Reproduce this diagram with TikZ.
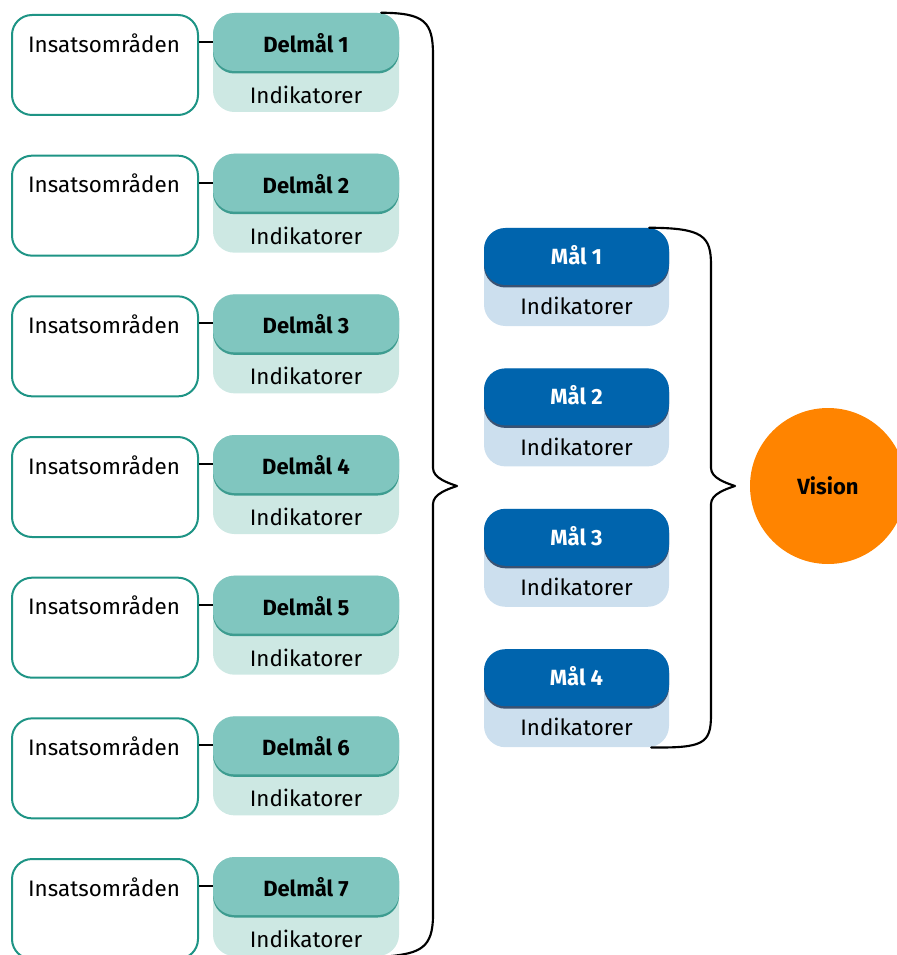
\documentclass[tikz,border=0pt]{standalone}
\usepackage{fontspec}
\setmainfont{Fira Sans}
\usetikzlibrary{calc}
\definecolor{tealdark}{HTML}{80C6BF}
\definecolor{tealedge}{HTML}{3D9C90}
\definecolor{teallight}{HTML}{CDE8E3}
\definecolor{tealline}{HTML}{1E9485}
\definecolor{bluedark}{HTML}{0064AD}
\definecolor{blueedge}{HTML}{3A5272}
\definecolor{bluelight}{HTML}{CCDFEE}
\definecolor{visorange}{HTML}{FF8400}
\begin{document}
\begin{tikzpicture}[x=0.75pt,y=-0.75pt,
  insbox/.style={draw=tealline, line width=1.5pt, fill=white, rounded corners=15pt, minimum width=139.5pt, minimum height=75pt, inner sep=0pt},
  txt/.style={font=\fontsize{16.8pt}{18pt}\selectfont, inner sep=0pt, anchor=center},
  btxt/.style={font=\fontsize{16.5pt}{18pt}\selectfont\bfseries, inner sep=0pt, anchor=center},
  dellight/.style={fill=teallight, rounded corners=16pt, minimum width=139.5pt, minimum height=74.25pt, inner sep=0pt},
  deledge/.style={fill=tealedge, rounded corners=16pt, minimum width=139.5pt, minimum height=43.5pt, inner sep=0pt},
  deldark/.style={fill=tealdark, rounded corners=16pt, minimum width=139.5pt, minimum height=43.5pt, inner sep=0pt},
  mallight/.style={fill=bluelight, rounded corners=16pt, minimum width=138.75pt, minimum height=73.5pt, inner sep=0pt},
  maledge/.style={fill=blueedge, rounded corners=16pt, minimum width=138.75pt, minimum height=42.75pt, inner sep=0pt},
  maldark/.style={fill=bluedark, rounded corners=16pt, minimum width=138.75pt, minimum height=42.75pt, inner sep=0pt},
  conn/.style={draw=black, line width=1.5pt},
  bracestyle/.style={draw=black, line width=1.6pt, line cap=round, line join=round}]
\useasboundingbox (0,0) rectangle (896,955);
\foreach \i in {1,...,7}{
  \pgfmathsetmacro\yy{140.67*(\i-1)}
  \node[insbox] (ins\i) at (105,65+\yy) {};
  \node[txt] (inst\i) at (104,43+\yy) {Insatsområden};
  \node[dellight] (dell\i) at (306,62.5+\yy) {};
  \node[deledge] (dele\i) at (306,44.5+\yy) {};
  \node[deldark] (deld\i) at (306,42+\yy) {};
  \node[btxt] (delt\i) at (306,43+\yy) {Delmål \i};
  \node[txt] (deli\i) at (306,95+\yy) {Indikatorer};
  \draw[conn] (ins\i.east |- deld\i.west) -- (deld\i.west);
}
\foreach \i in {1,...,4}{
  \pgfmathsetmacro\yy{140.4*(\i-1)}
  \node[mallight] (mall\i) at (576.5,277+\yy) {};
  \node[maledge] (male\i) at (576.5,259+\yy) {};
  \node[maldark] (mald\i) at (576.5,256.5+\yy) {};
  \node[btxt, text=white] (malt\i) at (576.5,255+\yy) {Mål \i};
  \node[txt] (mali\i) at (576.5,306+\yy) {Indikatorer};
}
\node[circle, fill=visorange, minimum size=117pt, inner sep=0pt] (vision) at (828,486) {};
\node[btxt] (vist) at (828,486) {Vision};
% left brace
\coordinate (b1s) at ($(dell1.north east)+(-18,0)$);
\coordinate (b1e) at ($(dell7.south east)+(-10,0)$);
\coordinate (b1p) at (457,486);
\draw[bracestyle] (b1s) .. controls (425,13) and (433,22) .. (433,55) -- (433,468)
  .. controls (433,478) and (448,483) .. (b1p)
  .. controls (448,489) and (433,494) .. (433,504) -- (433,915)
  .. controls (433,948) and (420,953) .. (b1e);
% right brace
\coordinate (b2s) at ($(mall1.north east)+(-20,0)$);
\coordinate (b2e) at ($(mall4.south east)+(-18,0)$);
\coordinate (b2p) at (735,486);
\draw[bracestyle] (b2s) .. controls (703,228) and (711,236) .. (711,265) -- (711,468)
  .. controls (711,478) and (726,483) .. (b2p)
  .. controls (726,489) and (711,494) .. (711,504) -- (711,715)
  .. controls (711,744) and (703,748) .. (b2e);
\end{tikzpicture}
\end{document}
